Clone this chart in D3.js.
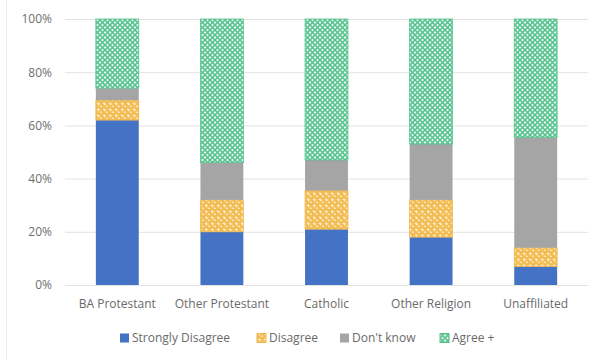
<!DOCTYPE html>
<html>
<head>
<meta charset="utf-8">
<script src="https://cdn.jsdelivr.net/npm/d3@7/dist/d3.min.js"></script>
<style>
  body { margin: 0; background: #fff; }
  svg text { font-family: "Open Sans", "Noto Sans", sans-serif; fill: #666; }
</style>
</head>
<body>
<div id="chart"></div>
<script>
// data (percent of each group)
const categories = ["BA Protestant", "Other Protestant", "Catholic", "Other Religion", "Unaffiliated"];
const seriesNames = ["Strongly Disagree", "Disagree", "Don't know", "Agree +"];
const stronglyDisagree = [62, 20, 21, 18, 7];
const disagree = [7.5, 12, 14.5, 14, 7];
const dontKnow = [4.5, 14, 11.5, 21, 41.5];
const agree = [26, 54, 53, 47, 44.5];
const yTicks = [0, 20, 40, 60, 80, 100];

const width = 598, height = 360;
const margin = {top: 19, right: 10, bottom: 75, left: 65};

const svg = d3.select("#chart").append("svg")
    .attr("width", width)
    .attr("height", height);

// --- patterns ---
const defs = svg.append("defs");

const pDis = defs.append("pattern")
    .attr("id", "pat-dis")
    .attr("patternUnits", "userSpaceOnUse")
    .attr("width", 6).attr("height", 6);
pDis.append("rect").attr("width", 6).attr("height", 6).attr("fill", "#f3bd55");
pDis.append("path")
    .attr("d", "M1,1.5 q1,-1 2,0 q0,1 -1,1.5 M4,4.5 q1,-1 1.6,0.2")
    .attr("fill", "none").attr("stroke", "#fff6e0").attr("stroke-width", 1.1);

const pAgr = defs.append("pattern")
    .attr("id", "pat-agr")
    .attr("patternUnits", "userSpaceOnUse")
    .attr("width", 5).attr("height", 5);
pAgr.append("rect").attr("width", 5).attr("height", 5).attr("fill", "#e6f6ee");
pAgr.append("path")
    .attr("d", "M0,0 L5,5 M5,0 L0,5")
    .attr("stroke", "#55c28e").attr("stroke-width", 1.5);

// faint chart border on the left
svg.append("line")
    .attr("x1", 6.5).attr("x2", 6.5).attr("y1", 0).attr("y2", height)
    .attr("stroke", "#ececec");

// --- scales ---
const x = d3.scaleBand()
    .domain(categories)
    .range([margin.left, width - margin.right])
    .paddingInner(0.59)
    .paddingOuter(0.295);

const y = d3.scaleLinear()
    .domain([0, 100])
    .range([height - margin.bottom, margin.top]);

// gridlines
svg.append("g")
    .selectAll("line")
    .data(yTicks)
    .enter().append("line")
    .attr("x1", margin.left)
    .attr("x2", width - margin.right)
    .attr("y1", d => y(d) + 0.5)
    .attr("y2", d => y(d) + 0.5)
    .attr("stroke", "#e3e3e3");

// y axis labels
const yAxis = svg.append("g")
    .attr("transform", `translate(${margin.left - 13},0)`)
    .call(d3.axisLeft(y).tickValues(yTicks).tickFormat(d => d + "%").tickSize(0).tickPadding(0));
yAxis.select(".domain").remove();
yAxis.selectAll("text").style("font-size", "12px").style("fill", "#6f6f6f");

// stacked bars
const rows = categories.map((c, i) => ({
    cat: c,
    "Strongly Disagree": stronglyDisagree[i],
    "Disagree": disagree[i],
    "Don't know": dontKnow[i],
    "Agree +": agree[i]
}));
const stack = d3.stack().keys(seriesNames)(rows);

const fills = {
    "Strongly Disagree": "#4472c4",
    "Disagree": "url(#pat-dis)",
    "Don't know": "#a5a5a5",
    "Agree +": "url(#pat-agr)"
};
const strokes = {
    "Strongly Disagree": "none",
    "Disagree": "#f0b54a",
    "Don't know": "none",
    "Agree +": "#55c28e"
};

svg.append("g")
    .selectAll("g")
    .data(stack)
    .enter().append("g")
    .each(function(s) {
        d3.select(this).selectAll("rect")
            .data(s)
            .enter().append("rect")
            .attr("x", d => x(d.data.cat))
            .attr("width", x.bandwidth())
            .attr("y", d => y(d[1]))
            .attr("height", d => y(d[0]) - y(d[1]))
            .attr("fill", fills[s.key])
            .attr("stroke", strokes[s.key])
            .attr("stroke-width", 0.8);
    });

// x axis labels
const xAxis = svg.append("g")
    .attr("transform", `translate(0,${height - margin.bottom + 14})`)
    .call(d3.axisBottom(x).tickSize(0).tickPadding(0));
xAxis.select(".domain").remove();
xAxis.selectAll("text").style("font-size", "12px").style("fill", "#6a6a6a").attr("dy", "0.71em");

// legend
const legendItems = [
    {name: "Strongly Disagree", fill: "#4472c4", stroke: "none", x: 120},
    {name: "Disagree", fill: "url(#pat-dis)", stroke: "#f0b54a", x: 257},
    {name: "Don't know", fill: "#a5a5a5", stroke: "none", x: 340},
    {name: "Agree +", fill: "url(#pat-agr)", stroke: "#55c28e", x: 440}
];
const legend = svg.append("g").attr("transform", "translate(0,338)");
const li = legend.selectAll("g").data(legendItems).enter().append("g")
    .attr("transform", d => `translate(${d.x},0)`);
li.append("rect")
    .attr("x", 0).attr("y", -4.5).attr("width", 9).attr("height", 9)
    .attr("fill", d => d.fill).attr("stroke", d => d.stroke);
li.append("text")
    .attr("x", 12).attr("y", 0).attr("dy", "0.35em")
    .style("font-size", "12px").style("fill", "#6a6a6a")
    .text(d => d.name);
</script>
</body>
</html>
